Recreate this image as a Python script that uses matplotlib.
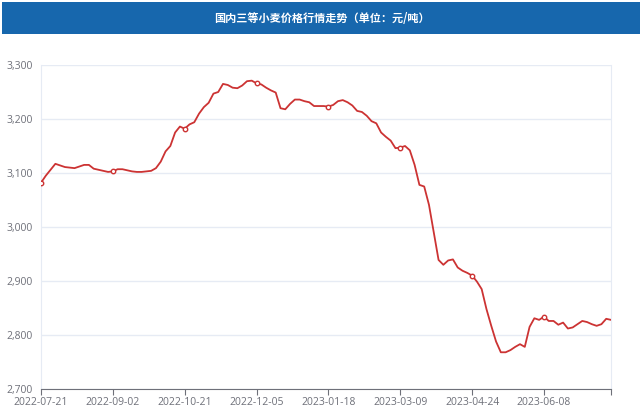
import numpy as np
import matplotlib.pyplot as plt
from matplotlib.patches import Rectangle

plt.rcParams['font.family'] = ['Noto Sans CJK SC', 'DejaVu Sans']

title = "国内三等小麦价格行情走势（单位：元/吨）"
tick_labels = ["2022-07-21", "2022-09-02", "2022-10-21", "2022-12-05",
               "2023-01-18", "2023-03-09", "2023-04-24", "2023-06-08"]
# price per sample along the category axis (label every 15 samples)
prices = [3082, 3095, 3106, 3117, 3114, 3111, 3110, 3109, 3112, 3115,
          3115, 3108, 3106, 3104, 3102, 3103, 3107, 3107, 3105, 3103,
          3102, 3102, 3103, 3104, 3109, 3121, 3140, 3150, 3175, 3186,
          3182, 3190, 3194, 3210, 3222, 3230, 3247, 3250, 3265, 3263,
          3258, 3257, 3262, 3270, 3271, 3266, 3264, 3258, 3253, 3249,
          3220, 3218, 3228, 3236, 3236, 3233, 3231, 3224, 3224, 3224,
          3223, 3226, 3233, 3235, 3231, 3225, 3215, 3213, 3206, 3196,
          3192, 3175, 3167, 3160, 3146, 3147, 3150, 3142, 3115, 3078,
          3075, 3041, 2990, 2939, 2930, 2938, 2940, 2925, 2919, 2915,
          2910, 2899, 2885, 2848, 2817, 2788, 2768, 2768, 2772, 2778,
          2783, 2778, 2815, 2831, 2828, 2834, 2826, 2826, 2819, 2823,
          2812, 2814, 2820, 2826, 2824, 2820, 2817, 2820, 2830, 2828]
label_step = 15

fig = plt.figure(figsize=(6.43, 4.08), dpi=100)

# title banner
fig.patches.append(Rectangle((2 / 643, 1 - 34 / 408), 638 / 643, 32 / 408,
                             transform=fig.transFigure, facecolor="#1767ad",
                             edgecolor="none"))
fig.text(0.5, 1 - 18 / 408, title, ha="center", va="center", color="white",
         fontsize=8, fontweight="bold")

ax = fig.add_axes([41 / 643, 19 / 408, 570 / 643, 324 / 408])
x = np.arange(len(prices))
ax.plot(x, prices, color="#cc3333", lw=1.3, zorder=3)
mk = x[::label_step]
ax.plot(mk, np.array(prices)[::label_step], ls="none", marker="o", ms=3.2,
        mfc="white", mec="#cc3333", mew=1.0, zorder=4)

ax.set_xlim(0, len(prices) - 1)
ax.set_ylim(2700, 3300)
ax.set_yticks(range(2700, 3301, 100))
ax.set_yticklabels([f"{v:,}" for v in range(2700, 3301, 100)])
ax.set_xticks(list(mk) + [len(prices) - 1])
ax.set_xticklabels(tick_labels + [""])

ax.grid(axis="y", color="#e6ebf4", lw=1)
ax.set_axisbelow(True)
ax.spines["top"].set_visible(False)
ax.spines["left"].set_color("#e6ebf4")
ax.spines["right"].set_color("#e6ebf4")
ax.spines["bottom"].set_color("#6e7079")
ax.tick_params(axis="y", length=0, pad=6, labelsize=7.5, labelcolor="#6e7079")
ax.tick_params(axis="x", length=4, color="#6e7079", pad=2, labelsize=7.5,
               labelcolor="#6e7079")
for t in ax.get_yticklabels() + ax.get_xticklabels():
    t.set_family(["Open Sans", "DejaVu Sans"])

fig.savefig("out.png", dpi=100)
